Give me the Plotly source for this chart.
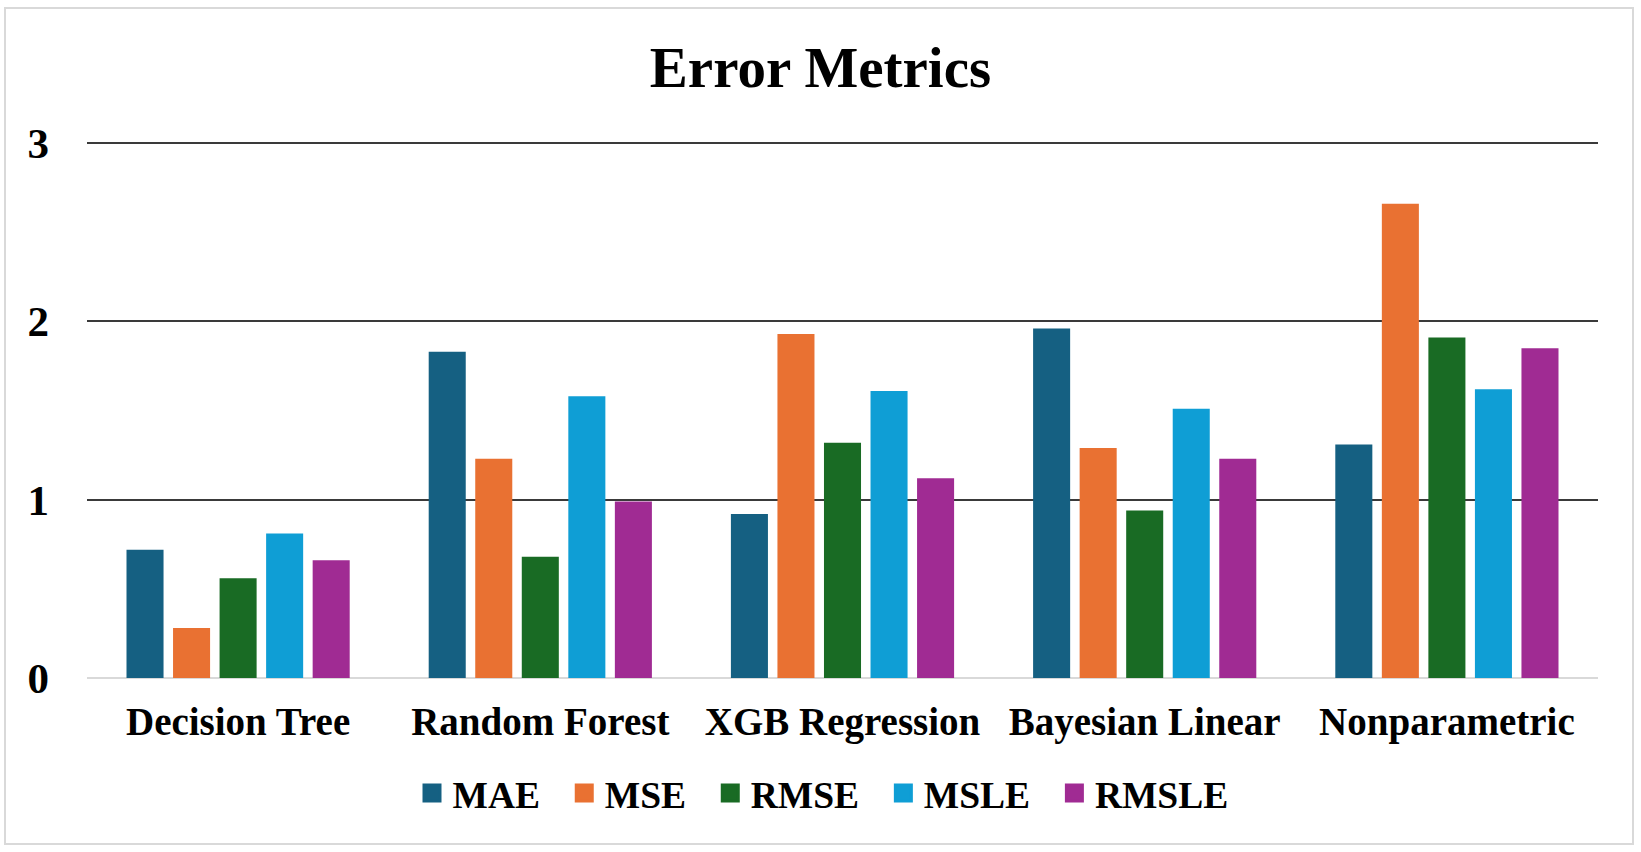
import plotly.graph_objects as go

categories = ["Decision Tree", "Random Forest", "XGB Regression", "Bayesian Linear", "Nonparametric"]
mae = [0.72, 1.83, 0.92, 1.96, 1.31]
mse = [0.28, 1.23, 1.93, 1.29, 2.66]
rmse = [0.56, 0.68, 1.32, 0.94, 1.91]
msle = [0.81, 1.58, 1.61, 1.51, 1.62]
rmsle = [0.66, 0.99, 1.12, 1.23, 1.85]

series = [
    ("MAE", mae, "#156082"),
    ("MSE", mse, "#E97132"),
    ("RMSE", rmse, "#196B24"),
    ("MSLE", msle, "#0F9ED5"),
    ("RMSLE", rmsle, "#A02B93"),
]

W, H = 1641, 852
L, R, T, B = 87, 43, 141, 174
font_family = "Liberation Serif"
NB = "\u00a0\u00a0"

fig = go.Figure()
for name, vals, color in series:
    fig.add_trace(go.Bar(x=categories, y=vals, name=name, legendgroup=name, showlegend=False,
                         marker=dict(color=color, line=dict(width=0))))
# legend entries (square swatches, no data)
for name, vals, color in series:
    fig.add_trace(go.Scatter(x=[None], y=[None], mode="markers", name=name + NB,
                             legendgroup=name, showlegend=True, hoverinfo="skip",
                             marker=dict(symbol="square", size=16, color=color,
                                         line=dict(width=3, color=color))))

pw = W - L - R
ph = H - T - B

fig.update_layout(
    width=W, height=H,
    paper_bgcolor="white", plot_bgcolor="white",
    margin=dict(l=L, r=R, t=T, b=B, autoexpand=False),
    barmode="group", bargap=0.23, bargroupgap=0.204,
    font=dict(family=font_family, color="black"),
    title=dict(text="<b>Error Metrics</b>", x=0.5, xref="container", xanchor="center",
               y=1 - 67 / H, yref="container", yanchor="middle",
               font=dict(size=57, family=font_family, color="black")),
    legend=dict(orientation="h", xref="container", yref="container",
                x=832 / W, xanchor="center", y=1 - 793 / H, yanchor="middle",
                font=dict(size=37.5, family=font_family, color="black", weight="bold"),
                itemwidth=31, traceorder="normal", itemsizing="trace"),
    xaxis=dict(showgrid=False, showline=False, ticks="", ticklabelstandoff=17, automargin=False,
               tickfont=dict(size=39, family=font_family, color="black", weight="bold")),
    yaxis=dict(range=[0, 3.012], tickvals=[0, 1, 2, 3], ticktext=["0", "1", "2", "3"],
               showgrid=True, gridcolor="#3a3a3a", gridwidth=2, automargin=False,
               zeroline=True, zerolinecolor="#D9D9D9", zerolinewidth=2,
               showline=False, ticks="", ticklabelstandoff=37,
               tickfont=dict(size=43, family=font_family, color="black", weight="bold")),
    shapes=[dict(type="rect", xref="paper", yref="paper",
                 x0=(5 - L) / pw, x1=(1633 - L) / pw,
                 y0=((H - B) - 844) / ph, y1=((H - B) - 8) / ph,
                 line=dict(color="#D9D9D9", width=2), fillcolor="rgba(0,0,0,0)", layer="below")],
)

fig.write_html("out.html", config={"displayModeBar": False},
               post_script="document.body.style.margin='0';")
